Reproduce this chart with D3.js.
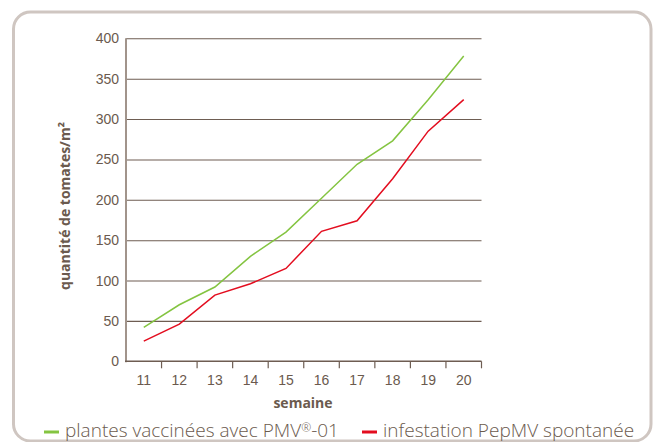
<!DOCTYPE html>
<html>
<head>
<meta charset="utf-8">
<script src="https://cdn.jsdelivr.net/npm/d3@7"></script>
<style>
  body { margin: 0; background: #fff; }
  svg { display: block; font-family: "Open Sans", "Noto Sans", sans-serif; }
  .tick text { fill: #6b5a4e; font-size: 14px; }
</style>
</head>
<body>
<svg id="chart" width="660" height="442"></svg>
<script>
const semaines = ["11", "12", "13", "14", "15", "16", "17", "18", "19", "20"];
const vaccinees = [42, 70, 92, 130, 160, 202, 244, 273, 324, 378];
const infestation = [25, 46, 82, 96, 115, 161, 174, 226, 285, 324];
const yTicks = [0, 50, 100, 150, 200, 250, 300, 350, 400];

const brun = "#6b5a4e";
const vert = "#84c441";
const rouge = "#e30d1f";

const svg = d3.select("#chart");

// cadre arrondi
svg.append("rect")
  .attr("x", 13.5)
  .attr("y", 12)
  .attr("width", 637.5)
  .attr("height", 429)
  .attr("rx", 17)
  .attr("fill", "none")
  .attr("stroke", "#cfc6c1")
  .attr("stroke-width", 3);

const x = d3.scaleBand().domain(semaines).range([126, 481.5]);
const y = d3.scaleLinear().domain([0, 400]).range([361.3, 38.3]);

// grille + etiquettes y
const gy = svg.append("g")
  .attr("transform", "translate(126,0)")
  .call(d3.axisLeft(y).tickValues(yTicks).tickSize(-(481.5 - 126)).tickPadding(7));
gy.select(".domain").remove();
gy.selectAll(".tick line")
  .attr("stroke", "#6e5d52")
  .attr("stroke-width", 1.1)
  .filter((d) => d === 0).remove();

// axe y vertical
svg.append("line")
  .attr("x1", 126).attr("x2", 126)
  .attr("y1", y(400)).attr("y2", y(0) + 1)
  .attr("stroke", "#a1948b")
  .attr("stroke-width", 2);

// axe x
svg.append("line")
  .attr("x1", 125).attr("x2", 481.5)
  .attr("y1", y(0)).attr("y2", y(0))
  .attr("stroke", "#6e5d52")
  .attr("stroke-width", 1.5);

const bornes = semaines.map((s) => x(s)).concat([x(semaines[9]) + x.bandwidth()]);
svg.append("g")
  .selectAll("line")
  .data(bornes.slice(1))
  .join("line")
  .attr("x1", (d) => d).attr("x2", (d) => d)
  .attr("y1", y(0)).attr("y2", y(0) + 7)
  .attr("stroke", "#6e5d52")
  .attr("stroke-width", 1.2);

const gx = svg.append("g")
  .attr("transform", "translate(0," + y(0) + ")")
  .call(d3.axisBottom(x).tickSize(0).tickPadding(14));
gx.select(".domain").remove();

// lignes
const ligne = (vals) =>
  d3.line()
    .x((d, i) => x(semaines[i]) + x.bandwidth() / 2)
    .y((d) => y(d))(vals);

svg.append("path")
  .attr("d", ligne(vaccinees))
  .attr("fill", "none")
  .attr("stroke", vert)
  .attr("stroke-width", 1.5);

svg.append("path")
  .attr("d", ligne(infestation))
  .attr("fill", "none")
  .attr("stroke", rouge)
  .attr("stroke-width", 1.5);

// titres
svg.append("text")
  .attr("x", 303)
  .attr("y", 408)
  .attr("text-anchor", "middle")
  .attr("fill", brun)
  .attr("font-weight", "bold")
  .attr("font-size", 14)
  .text("semaine");

svg.append("text")
  .attr("transform", "translate(70,206) rotate(-90)")
  .attr("text-anchor", "middle")
  .attr("fill", brun)
  .attr("font-weight", "bold")
  .attr("font-size", 14)
  .text("quantité de tomates/m²");

// legende
const legende = [
  { label: "plantes vaccinées avec PMV", sup: "®", rest: "-01", color: vert, x: 44 },
  { label: "infestation PepMV spontanée", sup: "", rest: "", color: rouge, x: 362 }
];
const lg = svg.append("g")
  .selectAll("g")
  .data(legende)
  .join("g")
  .attr("transform", (d) => "translate(" + d.x + ",432)");
lg.append("line")
  .attr("x1", 0).attr("x2", 15)
  .attr("stroke", (d) => d.color)
  .attr("stroke-width", 3);
const lt = lg.append("text")
  .attr("x", 21)
  .attr("y", 5)
  .attr("fill", brun)
  .attr("font-size", 19)
  .attr("font-weight", 300);
lt.append("tspan").text((d) => d.label);
lt.append("tspan")
  .attr("font-size", 12)
  .attr("dy", -5)
  .text((d) => d.sup);
lt.append("tspan")
  .attr("dy", (d) => (d.sup ? 5 : 0))
  .text((d) => d.rest);
</script>
</body>
</html>
